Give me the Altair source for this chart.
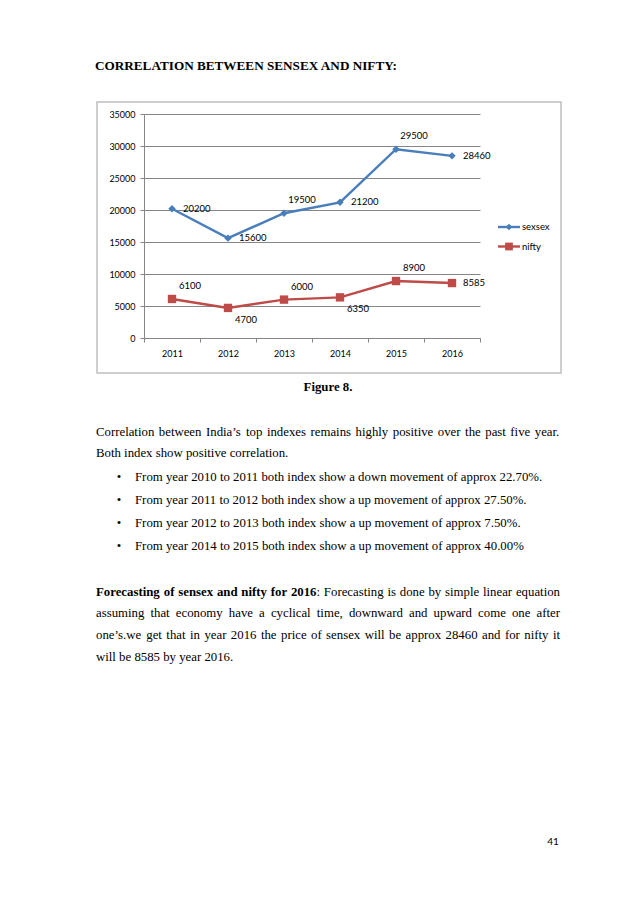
import altair as alt
import pandas as pd

# ---- data -------------------------------------------------------------
years = ["2011", "2012", "2013", "2014", "2015", "2016"]
sensex = [20200, 15600, 19500, 21200, 29500, 28460]
nifty = [6100, 4700, 6000, 6350, 8900, 8585]
series_names = ["sexsex", "nifty"]
sensex_label_pos = ["right", "right", "above", "right", "above", "right"]
nifty_label_pos = ["above", "below", "above", "below", "above", "right"]
y_ticks = [0, 5000, 10000, 15000, 20000, 25000, 30000, 35000]

title_text = "CORRELATION BETWEEN SENSEX AND NIFTY:"
caption_text = "Figure 8."
para1 = [
    "Correlation between India\u2019s top indexes remains highly positive over the past five year.",
    "Both index show positive correlation.",
]
bullets = [
    "From year 2010 to 2011 both index show a down movement of approx 22.70%.",
    "From year 2011 to 2012 both index show a up movement of approx 27.50%.",
    "From year 2012 to 2013 both index show a up movement of approx 7.50%.",
    "From year 2014 to 2015 both index show a up movement of approx 40.00%",
]
forecast_bold = "Forecasting of sensex and nifty for 2016"
forecast_lines = [
    ": Forecasting is done by simple linear equation",
    "assuming that economy have a cyclical time, downward and upward come one after",
    "one\u2019s.we get that in year 2016 the price of sensex will be approx 28460 and for nifty it",
    "will be 8585 by year 2016.",
]
page_number = "41"

BLUE = "#4A7EBB"
RED = "#BE4B48"
GRID = "#868686"
SERIF = "Liberation Serif"
SANS = "Lato"
FS = 12.8

# Times metrics (1/1000 em) for justifying lines (Liberation Serif is metric compatible)
_reg = dict(zip("abcdefghijklmnopqrstuvwxyz",
                [444, 500, 444, 500, 444, 333, 500, 500, 278, 278, 500, 278, 778, 500, 500, 500, 500, 333, 389, 278, 500, 500, 722, 500, 500, 444]))
_reg.update(dict(zip("ABCDEFGHIJKLMNOPQRSTUVWXYZ",
                     [722, 667, 667, 722, 611, 556, 722, 722, 333, 389, 722, 611, 889, 722, 722, 556, 722, 667, 556, 611, 722, 722, 944, 722, 722, 611])))
_reg.update({d: 500 for d in "0123456789"})
_reg.update({" ": 250, ".": 250, ",": 250, ":": 278, "\u2019": 333, "%": 833})
_bold = dict(zip("abcdefghijklmnopqrstuvwxyz",
                 [500, 556, 444, 556, 444, 333, 500, 556, 278, 333, 556, 278, 833, 556, 500, 556, 556, 444, 389, 333, 556, 500, 722, 500, 500, 444]))
_bold.update(dict(zip("ABCDEFGHIJKLMNOPQRSTUVWXYZ",
                      [722, 667, 722, 722, 667, 611, 778, 778, 389, 500, 778, 667, 944, 722, 778, 611, 778, 722, 556, 667, 722, 722, 1000, 722, 722, 667])))
_bold.update({d: 500 for d in "0123456789"})
_bold.update({" ": 250, ".": 250, ",": 250, ":": 333})


def tw(s, bold=False):
    t = _bold if bold else _reg
    return sum(t.get(c, 500) for c in s) * FS / 1000.0


rows = []
for yr, v, p in zip(years, sensex, sensex_label_pos):
    rows.append({"year": yr, "value": v, "series": series_names[0], "pos": p})
for yr, v, p in zip(years, nifty, nifty_label_pos):
    rows.append({"year": yr, "value": v, "series": series_names[1], "pos": p})
df = pd.DataFrame(rows)

# plot area origin in page pixels
OX, OY = 144, 114

xenc = alt.X(
    "year:O",
    scale=alt.Scale(type="band", paddingInner=0, paddingOuter=0),
    axis=alt.Axis(
        title=None, labelAngle=0, tickBand="extent", tickSize=4, tickColor=GRID,
        domainColor=GRID, labelFont=SANS, labelFontSize=9, labelColor="#000000",
        labelPadding=7, grid=False,
    ),
)
yenc = alt.Y(
    "value:Q",
    scale=alt.Scale(domain=[0, 35000], nice=False),
    axis=alt.Axis(
        title=None, values=y_ticks, format="d", tickSize=4, tickColor=GRID,
        domainColor=GRID, gridColor=GRID, gridWidth=1, grid=True,
        labelFont=SANS, labelFontSize=9, labelColor="#000000", labelPadding=5,
    ),
)
color = alt.Color("series:N", scale=alt.Scale(domain=series_names, range=[BLUE, RED]), legend=None)
shape = alt.Shape("series:N", scale=alt.Scale(domain=series_names, range=["diamond", "square"]), legend=None)
size = alt.Size("series:N", scale=alt.Scale(domain=series_names, range=[55, 70]), legend=None)

base = alt.Chart(df)
lines = base.mark_line(strokeWidth=2.4).encode(x=xenc, y=yenc, color=color, detail="series:N")
points = base.mark_point(filled=True, opacity=1).encode(x=xenc, y=yenc, color=color, shape=shape, size=size)

label_style = dict(font=SANS, fontSize=9.5, color="#000000")
lab_right = base.transform_filter(alt.datum.pos == "right").mark_text(
    align="left", baseline="middle", dx=11, **label_style
).encode(x=xenc, y=yenc, text=alt.Text("value:Q", format="d"))
lab_above = base.transform_filter(alt.datum.pos == "above").mark_text(
    align="center", baseline="middle", dx=18, dy=-13, **label_style
).encode(x=xenc, y=yenc, text=alt.Text("value:Q", format="d"))
lab_below = base.transform_filter(alt.datum.pos == "below").mark_text(
    align="center", baseline="middle", dx=18, dy=12, **label_style
).encode(x=xenc, y=yenc, text=alt.Text("value:Q", format="d"))

one = pd.DataFrame({"a": [0]})


def page_text(text, x, y, align="left", bold=False, font=SERIF, size=FS):
    return alt.Chart(one).mark_text(
        text=text, align=align, baseline="middle", font=font, fontSize=size,
        fontWeight="bold" if bold else "normal", color="#000000",
    ).encode(x=alt.value(x - OX), y=alt.value(y - OY))


def justified(words, x0, x1, y):
    """words: list of words, each a list of (segment, bold) pieces."""
    widths = [sum(tw(s, b) for s, b in w) for w in words]
    gap = (x1 - x0 - sum(widths)) / max(len(words) - 1, 1)
    out = []
    x = x0
    for w, wd in zip(words, widths):
        xx = x
        for s, b in w:
            out.append(page_text(s, xx, y, bold=b))
            xx += tw(s, b)
        x += wd + gap
    return out


def plain_words(s, bold=False):
    return [[(w, bold)] for w in s.split(" ")]


# chart frame
frame = alt.Chart(one).mark_rect(fill="#ffffff", fillOpacity=0, stroke="#BFBFBF", strokeWidth=1.5).encode(
    x=alt.value(97 - OX), x2=alt.value(561 - OX), y=alt.value(102 - OY), y2=alt.value(373 - OY)
)

# legend
legend_layers = []
for name, col, shp, sz, ly in [
    (series_names[0], BLUE, "diamond", 45, 227),
    (series_names[1], RED, "square", 60, 246.5),
]:
    legend_layers.append(
        alt.Chart(one).mark_rule(color=col, strokeWidth=2.4).encode(
            x=alt.value(498 - OX), x2=alt.value(520 - OX), y=alt.value(ly - OY)
        )
    )
    legend_layers.append(
        alt.Chart(one).mark_point(filled=True, opacity=1, shape=shp, size=sz, color=col).encode(
            x=alt.value(509 - OX), y=alt.value(ly - OY)
        )
    )
    legend_layers.append(page_text(name, 522, ly, font=SANS, size=9.5))

texts = [page_text(title_text, 95, 66, bold=True, size=13.2)]
texts.append(page_text(caption_text, 328, 387, align="center", bold=True))
texts += justified(plain_words(para1[0]), 96, 560, 432)
texts.append(page_text(para1[1], 96, 453))
for i, b in enumerate(bullets):
    yy = [477, 500, 523, 546][i]
    texts.append(page_text("\u2022", 119, yy, align="center"))
    texts.append(page_text(b, 135, yy))

# forecasting paragraph (first three lines justified)
fb = plain_words(forecast_bold, bold=True)
rest = forecast_lines[0].split(" ")  # [":", "Forecasting", ...]
fb[-1] = fb[-1] + [(rest[0], False)]
line1 = fb + [[(w, False)] for w in rest[1:]]
texts += justified(line1, 96, 560, 592)
texts += justified(plain_words(forecast_lines[1]), 96, 560, 613)
texts += justified(plain_words(forecast_lines[2]), 96, 560, 635)
texts.append(page_text(forecast_lines[3], 96, 657))
texts.append(page_text(page_number, 553, 842, align="center", font=SANS, size=10))

chart = alt.layer(
    frame, lines, points, lab_right, lab_above, lab_below, *legend_layers, *texts
).properties(
    width=336,
    height=224,
    padding={"left": OX - 8, "top": OY - 8, "right": 622 - (OX - 8) - 336, "bottom": 887 - (OY - 8) - 224},
    autosize=alt.AutoSizeParams(type="none"),
    background="#ffffff",
).configure_view(stroke=None)

chart.save("out.html", embed_options={"renderer": "svg", "actions": False})
